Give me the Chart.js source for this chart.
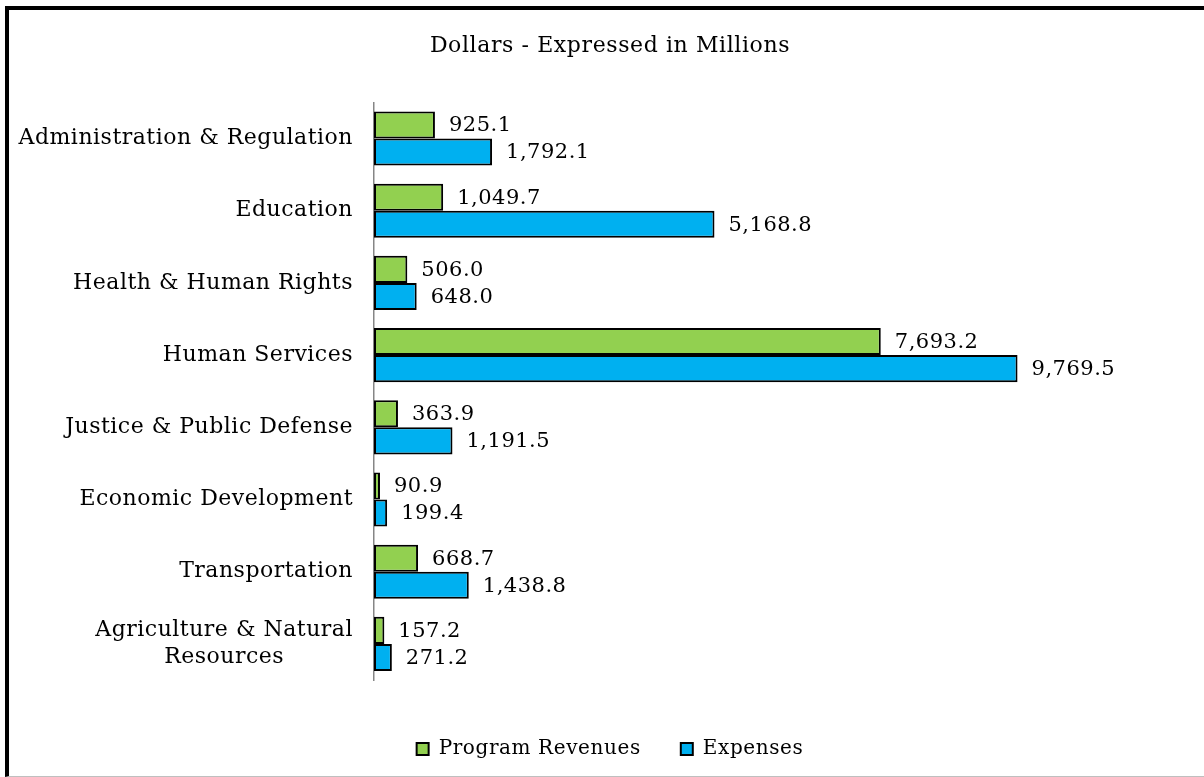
<!DOCTYPE html>
<html>
<head>
<meta charset="utf-8">
<script src="https://cdn.jsdelivr.net/npm/chart.js@4.4.1/dist/chart.umd.min.js"></script>
<style>
  html, body { margin: 0; padding: 0; background: #fff; }
  #wrap { position: relative; width: 1204px; height: 777px; overflow: hidden; }
  #frame {
    position: absolute; left: 5px; top: 6px; width: 1300px; height: 766px;
    border-left: 4px solid #000; border-top: 4px solid #000; border-bottom: 1px solid #bfbfbf;
    pointer-events: none;
  }
</style>
</head>
<body>
<div id="wrap">
  <canvas id="govChart" width="1204" height="777"></canvas>
  <div id="frame"></div>
</div>
<script>
// Kategori dan nilai (juta dolar)
const categories = [
    'Administration & Regulation',
    'Education',
    'Health & Human Rights',
    'Human Services',
    'Justice & Public Defense',
    'Economic Development',
    'Transportation',
    ['Agriculture & Natural', 'Resources']
];
const programRevenues = [925.1, 1049.7, 506.0, 7693.2, 363.9, 90.9, 668.7, 157.2];
const expenses = [1792.1, 5168.8, 648.0, 9769.5, 1191.5, 199.4, 1438.8, 271.2];

const FONT = "'DejaVu Serif', 'Liberation Serif', serif";

// Huruf sedikit direnggangkan supaya mirip font aslinya
const spacing = {
    id: 'spacing',
    beforeUpdate(chart) { chart.ctx.letterSpacing = '0.6px'; },
    beforeDraw(chart) { chart.ctx.letterSpacing = '0.6px'; }
};

// Label angka di ujung batang
const valueLabels = {
    id: 'valueLabels',
    afterDatasetsDraw(chart) {
        const c = chart.ctx;
        c.save();
        c.font = '21px ' + FONT;
        c.letterSpacing = '0.5px';
        c.fillStyle = '#000';
        c.textAlign = 'left';
        c.textBaseline = 'middle';
        chart.data.datasets.forEach((ds, i) => {
            chart.getDatasetMeta(i).data.forEach((bar, j) => {
                const txt = ds.data[j].toLocaleString('en-US', { minimumFractionDigits: 1, maximumFractionDigits: 1 });
                c.fillText(txt, bar.x + 14, bar.y + 1);
            });
        });
        c.restore();
    }
};

// Label kategori: blok rata kanan, baris di tengah
const categoryLabels = {
    id: 'categoryLabels',
    afterDraw(chart) {
        const c = chart.ctx;
        const y = chart.scales.y;
        c.save();
        c.font = '22px ' + FONT;
        c.letterSpacing = '0.5px';
        c.fillStyle = '#000';
        c.textAlign = 'center';
        c.textBaseline = 'middle';
        const lineH = 27;
        categories.forEach((lab, i) => {
            const lines = Array.isArray(lab) ? lab : [lab];
            const w = Math.max(...lines.map(l => c.measureText(l).width));
            const cx = y.right - 21 - w / 2;
            const cy = y.getPixelForValue(i);
            lines.forEach((l, k) => {
                c.fillText(l, cx, cy + (k - (lines.length - 1) / 2) * lineH);
            });
        });
        c.restore();
    }
};

new Chart(document.getElementById('govChart'), {
    type: 'bar',
    data: {
        labels: categories,
        datasets: [{
            label: 'Program Revenues',
            data: programRevenues,
            backgroundColor: '#92D050',
            borderColor: '#000',
            borderWidth: 2,
            borderSkipped: false,
            categoryPercentage: 0.75,
            barPercentage: 1.0
        }, {
            label: 'Expenses',
            data: expenses,
            backgroundColor: '#00B0F0',
            borderColor: '#000',
            borderWidth: 2,
            borderSkipped: false,
            categoryPercentage: 0.75,
            barPercentage: 1.0
        }]
    },
    options: {
        indexAxis: 'y',
        responsive: false,
        animation: false,
        layout: { padding: { left: 16, right: 0, top: 0, bottom: 8 } },
        scales: {
            x: {
                min: 0, max: 12600,
                grid: { display: false },
                border: { display: false },
                ticks: { display: false },
                afterFit(scale) { scale.height = 19; }
            },
            y: {
                grid: { display: false },
                border: { display: true, color: '#868686', width: 1.5 },
                ticks: { display: false },
                afterFit(scale) { scale.width = 358; }
            }
        },
        plugins: {
            title: {
                display: true,
                text: 'Dollars - Expressed in Millions',
                color: '#000',
                font: { family: FONT, size: 22, weight: 'normal' },
                padding: { top: 33, bottom: 43 }
            },
            legend: {
                position: 'bottom',
                labels: {
                    color: '#000',
                    font: { family: FONT, size: 20 },
                    boxWidth: 12,
                    boxHeight: 12,
                    padding: 40
                }
            },
            tooltip: { enabled: false }
        }
    },
    plugins: [spacing, valueLabels, categoryLabels]
});
</script>
</body>
</html>
